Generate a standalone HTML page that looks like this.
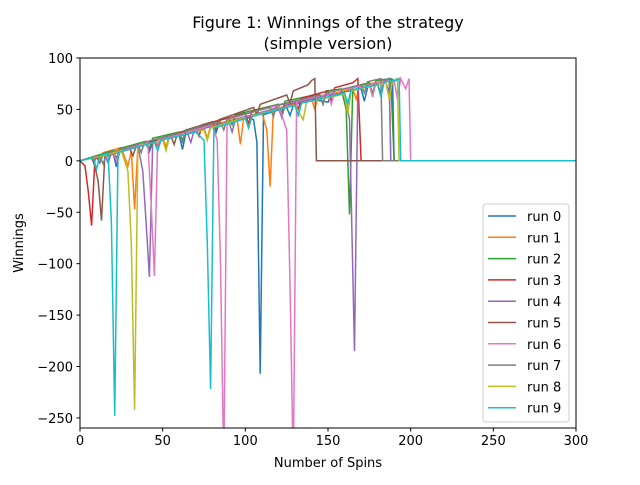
<!DOCTYPE html>
<html><head><meta charset="utf-8"><style>
body{margin:0;background:#fff;font-family:"Liberation Sans","DejaVu Sans",sans-serif}
svg text{font-family:"DejaVu Sans","Liberation Sans",sans-serif}
</style></head><body>
<svg id="chart" width="640" height="480" xmlns="http://www.w3.org/2000/svg">
<rect width="640" height="480" fill="#fff"/>
<text x="328" y="28" font-size="16" text-anchor="middle">Figure 1: Winnings of the strategy</text>
<text x="328" y="49" font-size="16" text-anchor="middle">(simple version)</text>
<defs><clipPath id="clip"><rect x="80" y="58" width="496" height="370"/></clipPath></defs>
<g id="series" clip-path="url(#clip)"></g>
<rect x="80" y="58" width="496" height="370" fill="none" stroke="#000" stroke-width="1"/>
<g id="axes"></g>
<text x="328" y="467" font-size="13" text-anchor="middle">Number of Spins</text>
<text transform="translate(23,243) rotate(-90)" font-size="13" text-anchor="middle">Winnings</text>
<g id="legend"></g>
</svg>
<script>
const xTicks=[0,50,100,150,200,250,300];
const yTicks=[100,50,0,-50,-100,-150,-200,-250];
const runNames=["run 0","run 1","run 2","run 3","run 4","run 5","run 6","run 7","run 8","run 9"];
const colors=["#1f77b4","#ff7f0e","#2ca02c","#d62728","#9467bd","#8c564b","#e377c2","#7f7f7f","#bcbd22","#17becf"];
const run0=[[0,0],[10,4],[12,-2],[14,6],[20,8],[22,-6],[24,10],[40,17],[42,9],[44,18],[60,25],[62,11],[64,27],[80,34],[82,26],[84,36],[100,43],[105,40],[107,18],[109,-207],[111,45],[125,52],[127,44],[129,54],[140,60],[150,57],[152,65],[170,70],[172,58],[174,72],[185,76],[187,66],[189,80],[190,0],[300,0]];
const run1=[[0,0],[10,5],[12,0],[14,8],[25,13],[29,-5],[31,10],[33,-47],[35,15],[50,22],[52,14],[54,24],[75,32],[77,22],[79,34],[95,41],[97,16],[99,42],[110,47],[113,30],[115,-25],[117,50],[140,60],[142,50],[144,62],[165,70],[167,60],[169,73],[185,78],[187,80],[188,0],[300,0]];
const run2=[[0,0],[10,5],[20,10],[22,2],[24,12],[40,19],[42,12],[44,22],[60,28],[62,20],[64,30],[90,42],[92,35],[94,45],[120,55],[122,46],[124,58],[145,65],[147,55],[149,68],[158,70],[161,50],[163,-52],[165,72],[175,76],[177,65],[179,78],[188,80],[190,0],[300,0]];
const run3=[[0,0],[3,-5],[5,-30],[7,-63],[9,2],[20,8],[22,0],[24,10],[45,20],[47,12],[49,22],[70,32],[72,24],[74,35],[100,46],[102,36],[104,48],[130,58],[132,50],[134,61],[150,68],[152,58],[154,71],[165,76],[168,80],[170,0],[300,0]];
const run4=[[0,0],[15,6],[17,-2],[19,8],[35,15],[38,-10],[40,-60],[42,-113],[44,18],[65,27],[67,18],[69,29],[90,38],[92,28],[94,40],[120,52],[122,42],[124,54],[150,64],[160,66],[163,40],[166,-185],[168,70],[180,75],[182,65],[184,78],[187,80],[188,0],[300,0]];
const run5=[[0,0],[7,3],[9,-5],[11,-20],[13,-58],[15,4],[30,12],[32,5],[34,14],[55,24],[57,16],[59,27],[80,38],[82,30],[84,40],[105,52],[107,45],[109,55],[125,64],[127,56],[129,68],[138,74],[140,78],[142,80],[143,0],[300,0]];
const run6=[[0,0],[15,6],[20,9],[22,0],[24,10],[41,18],[43,-40],[45,-112],[47,20],[70,30],[80,35],[83,20],[85,-100],[87,-300],[89,40],[110,50],[120,54],[125,30],[127,-120],[129,-300],[131,58],[150,65],[152,55],[154,68],[175,74],[177,62],[179,76],[190,78],[192,60],[194,80],[197,70],[199,80],[200,0],[300,0]];
const run7=[[0,0],[12,5],[14,-3],[16,7],[35,16],[37,8],[39,18],[60,27],[62,18],[64,29],[85,38],[87,30],[89,41],[115,52],[117,43],[119,54],[145,64],[147,55],[149,66],[170,74],[172,66],[174,77],[182,80],[183,0],[300,0]];
const run8=[[0,0],[15,5],[25,10],[29,-10],[31,-80],[33,-242],[35,14],[50,20],[52,10],[54,22],[75,30],[77,20],[79,32],[100,42],[102,32],[104,44],[130,54],[135,40],[137,57],[160,65],[162,45],[164,68],[185,76],[187,60],[189,78],[192,80],[193,0],[300,0]];
const run9=[[0,0],[8,3],[10,-8],[12,5],[17,7],[19,-60],[21,-248],[23,8],[45,18],[47,10],[49,20],[70,28],[75,20],[77,-80],[79,-222],[81,32],[100,41],[102,32],[104,43],[130,54],[132,44],[134,56],[160,66],[162,56],[164,69],[180,74],[182,62],[184,77],[191,78],[193,80],[194,0],[300,0]];
const runs=[run0,run1,run2,run3,run4,run5,run6,run7,run8,run9];
const X0=80,X1=576,Y0=58,Y1=428,XMIN=0,XMAX=300,YMIN=-259.8,YMAX=100;
function sx(v){return X0+(v-XMIN)/(XMAX-XMIN)*(X1-X0);}
function sy(v){return Y1-(v-YMIN)/(YMAX-YMIN)*(Y1-Y0);}
const NS="http://www.w3.org/2000/svg";
function mk(t,a){const e=document.createElementNS(NS,t);for(const k in a)e.setAttribute(k,a[k]);return e;}
const sg=document.getElementById('series');
runs.forEach((r,i)=>{
  const pl=mk('polyline',{points:r.map(p=>sx(p[0]).toFixed(1)+','+sy(p[1]).toFixed(1)).join(' '),fill:'none',stroke:colors[i],'stroke-width':1.5});
  
  
  sg.appendChild(pl);
});
const ax=document.getElementById('axes');
xTicks.forEach(t=>{
  const x=sx(t);
  const l=mk('line',{x1:x,x2:x,y1:Y1,y2:Y1+3.5,stroke:'#000'});
  
  
  ax.appendChild(l);
  const tx=mk('text',{x:x,y:Y1+17,'font-size':13,'text-anchor':'middle'});
  tx.textContent=t;
  
  
  ax.appendChild(tx);
});
yTicks.forEach(t=>{
  const y=sy(t);
  const l=mk('line',{x1:X0-3.5,x2:X0,y1:y,y2:y,stroke:'#000'});
  
  
  ax.appendChild(l);
  const tx=mk('text',{x:X0-7,y:y+5,'font-size':13,'text-anchor':'end'});
  tx.textContent=t<0?'\u2212'+(-t):t;
  
  
  ax.appendChild(tx);
});
const lg=document.getElementById('legend');
const box=mk('rect',{x:483,y:204,width:86,height:218,rx:3,fill:'#fff','fill-opacity':0.8,stroke:'#ccc'});


lg.appendChild(box);
runNames.forEach((n,i)=>{
  const y=216+i*21.3;
  const l=mk('line',{x1:488,x2:516,y1:y,y2:y,stroke:colors[i],'stroke-width':1.5});
  
  
  lg.appendChild(l);
  const tx=mk('text',{x:527,y:y+5,'font-size':13});
  tx.textContent=n;
  
  
  lg.appendChild(tx);
});
</script>
</body></html>
